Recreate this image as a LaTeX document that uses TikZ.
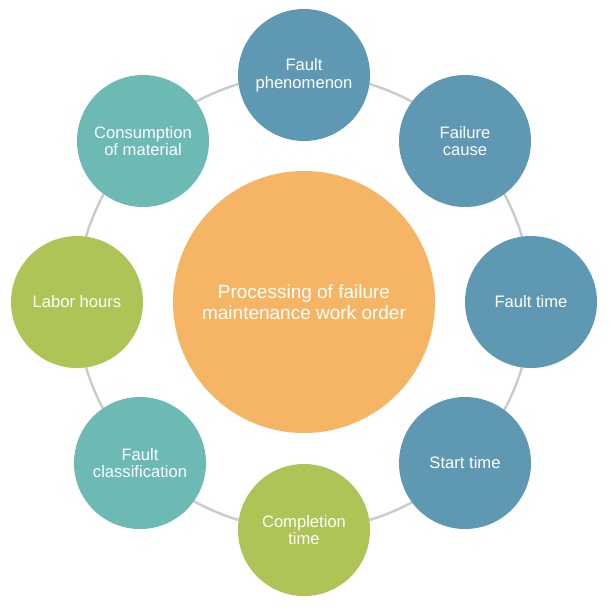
\documentclass[tikz,border=0pt]{standalone}
\usepackage{fontspec}
\setmainfont{Liberation Sans}
\definecolor{cblue}{HTML}{5E98B2}
\definecolor{cteal}{HTML}{6DB9B3}
\definecolor{cgreen}{HTML}{AEC456}
\definecolor{corange}{HTML}{F6B564}
\definecolor{cring}{HTML}{CCCCCC}
\begin{document}
\begin{tikzpicture}[x=1pt,y=-1pt,
  outer/.style={circle,minimum size=132pt,inner sep=0pt,text=white,align=center,
    font=\fontsize{16.6}{17.5}\selectfont},
  hub/.style={circle,minimum size=262pt,inner sep=0pt,text=white,align=center,fill=corange,
    font=\fontsize{19}{21}\selectfont}]
\useasboundingbox (0,0) rectangle (609,606);
\node[hub] (c) at (304,302) {Processing of failure\\maintenance work order};
\draw[cring,line width=2.5pt] (c.center) circle[radius=227.5];
\node[outer,fill=cblue] (n1) at (304,75) {Fault\\phenomenon};
\node[outer,fill=cblue] (n2) at (465,141) {Failure\\cause};
\node[outer,fill=cblue] (n3) at (531,302) {Fault time};
\node[outer,fill=cblue] (n4) at (465,463) {Start time};
\node[outer,fill=cgreen] (n5) at (304,530) {Completion\\time};
\node[outer,fill=cteal] (n6) at (140,463) {Fault\\classification};
\node[outer,fill=cgreen] (n7) at (77,302) {Labor hours};
\node[outer,fill=cteal] (n8) at (143,141) {Consumption\\of material};
\end{tikzpicture}
\end{document}
